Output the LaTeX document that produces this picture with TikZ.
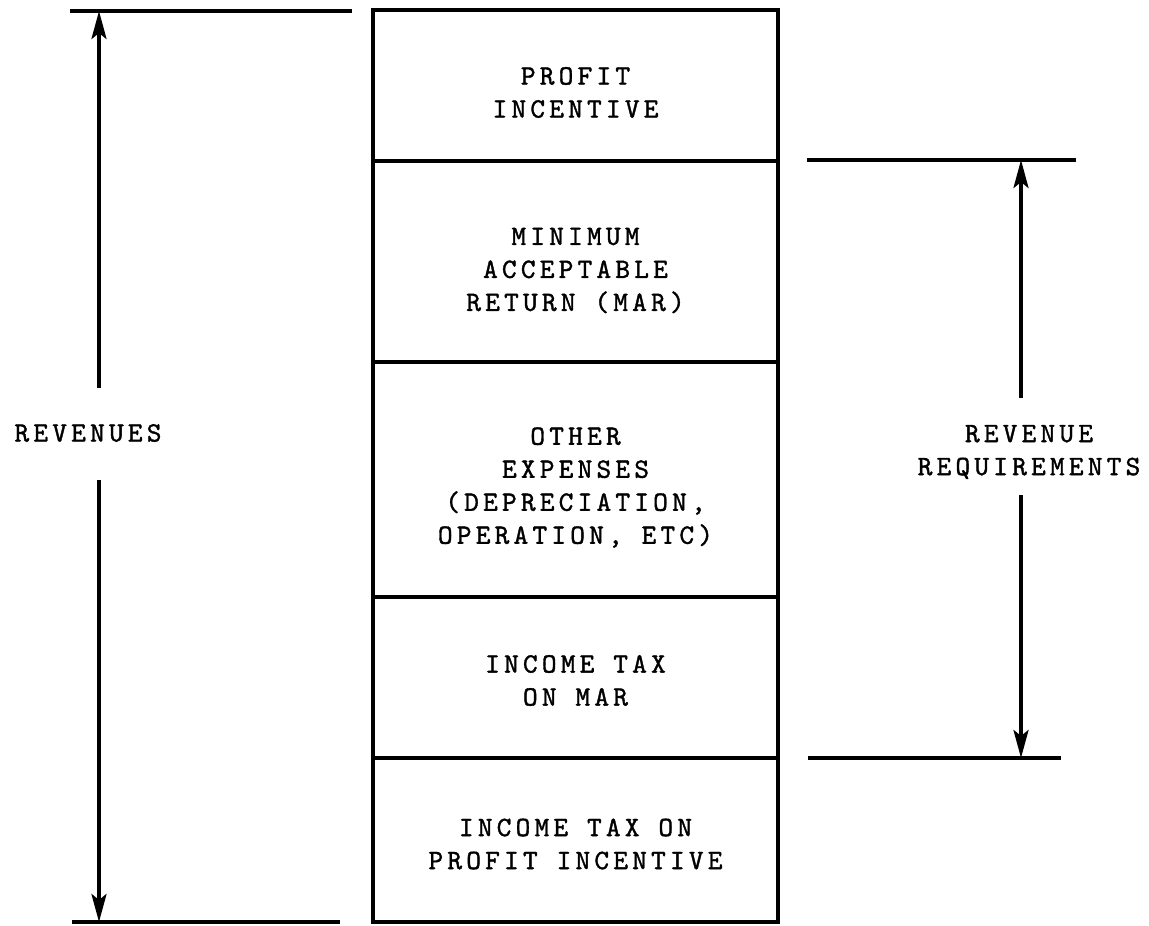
\documentclass[tikz,border=0pt]{standalone}
\usepackage{fontspec}
\newfontfamily\tw{lmmono10-regular.otf}[LetterSpace=15,FakeBold=1.3]
\usetikzlibrary{arrows.meta}
\begin{document}
\begin{tikzpicture}[x=0.5pt,y=-0.5pt,
  txt/.style={align=center, inner sep=0pt, font=\tw\fontsize{14pt}{16.5pt}\selectfont},
  sect/.style={draw, line width=1.8pt, minimum width=202.5pt, inner sep=0pt},
  rule/.style={line width=1.8pt},
  dimarrow/.style={line width=1.8pt, -{Stealth[length=14pt,width=7.5pt,inset=3pt]}}]
\useasboundingbox (0,0) rectangle (1149,925);
% stacked box
\node[sect, minimum height=75.5pt]  (s1) at (575.5,85.5)  {};
\node[sect, minimum height=100.5pt] (s2) at (575.5,261.5) {};
\node[sect, minimum height=117.5pt] (s3) at (575.5,479.5) {};
\node[sect, minimum height=80.5pt]  (s4) at (575.5,677.5) {};
\node[sect, minimum height=82pt]    (s5) at (575.5,840)   {};
\node[txt] (t1) at ([yshift=-3.5pt]s1.center) {PROFIT\\INCENTIVE};
\node[txt] (t2) at ([yshift=-4.5pt]s2.center) {MINIMUM\\ACCEPTABLE\\RETURN (MAR)};
\node[txt] (t3) at ([yshift=-4pt]s3.center) {OTHER\\EXPENSES\\(DEPRECIATION,\\OPERATION, ETC)};
\node[txt] (t4) at ([yshift=-1.5pt]s4.center) {INCOME TAX\\ON MAR};
\node[txt] (t5) at ([yshift=-2pt]s5.center) {INCOME TAX ON\\PROFIT INCENTIVE};
% left dimension
\coordinate (ltA) at (70,11);  \coordinate (ltB) at (352,11);
\coordinate (lbA) at (72,922); \coordinate (lbB) at (340,922);
\coordinate (lTop) at (99,11); \coordinate (lBot) at (99,922);
\coordinate (lU) at (99,388);  \coordinate (lD) at (99,480);
\draw[rule] (ltA) -- (ltB);
\draw[rule] (lbA) -- (lbB);
\draw[dimarrow] (lU) -- (lTop);
\draw[dimarrow] (lD) -- (lBot);
\node[txt] (rev) at (88,433) {REVENUES};
% right dimension
\coordinate (rtA) at (807,160); \coordinate (rtB) at (1076,160);
\coordinate (rbA) at (808,758); \coordinate (rbB) at (1061,758);
\coordinate (rTop) at (1021,160); \coordinate (rBot) at (1021,758);
\coordinate (rU) at (1021,398);   \coordinate (rD) at (1021,495);
\draw[rule] (rtA) -- (rtB);
\draw[rule] (rbA) -- (rbB);
\draw[dimarrow] (rU) -- (rTop);
\draw[dimarrow] (rD) -- (rBot);
\node[txt] (rreq) at (1029,452) {REVENUE\\REQUIREMENTS};
\end{tikzpicture}
\end{document}
